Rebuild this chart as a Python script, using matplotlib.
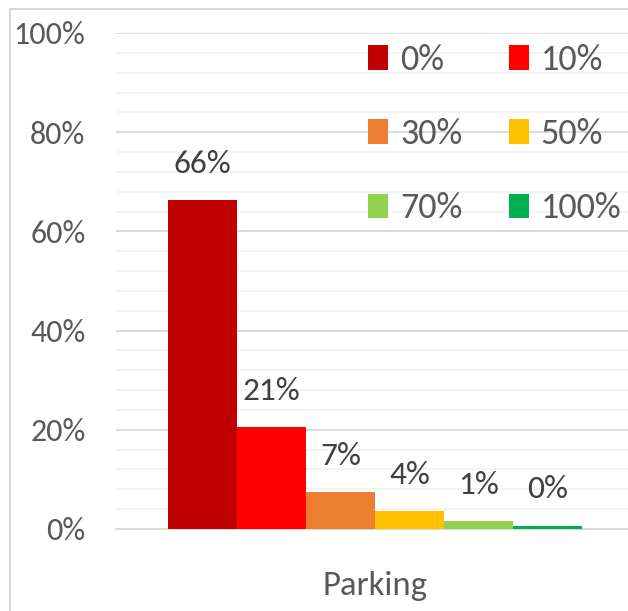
import matplotlib.pyplot as plt
from matplotlib.patches import Rectangle, Patch
from matplotlib.ticker import MultipleLocator, FuncFormatter

category = "Parking"
levels = ["0%", "10%", "30%", "50%", "70%", "100%"]
shares = [66.3, 20.6, 7.4, 3.7, 1.6, 0.7]
labels = ["66%", "21%", "7%", "4%", "1%", "0%"]
colors = ["#C00000", "#FF0000", "#ED7D31", "#FFC000", "#92D050", "#00B050"]

plt.rcParams["font.family"] = ["Carlito", "DejaVu Sans"]
text_color = "#595959"
fs = 23

W, H = 628, 611
fig = plt.figure(figsize=(W / 100, H / 100), dpi=100)
fig.patch.set_facecolor("white")

# chart frame like the Excel chart area
fig.patches.append(Rectangle((10 / W, -0.1), 1.2, (H - 9) / H + 0.1,
                             transform=fig.transFigure, fill=False,
                             edgecolor="#d9d9d9", linewidth=1.5))

ax = fig.add_axes([116 / W, 82 / H, 518 / W, 496 / H])

n = len(levels)
w = 414 / 518 / n
for i, (v, c, lab) in enumerate(zip(shares, colors, labels)):
    x = (i - (n - 1) / 2) * w
    ax.bar(x, v, width=w, color=c, edgecolor="none", zorder=3)
    ax.annotate(lab, (x, v), xytext=(0, 26), textcoords="offset points",
                ha="center", va="center", fontsize=fs + 1, color="#404040")

ax.set_xlim(-0.5, 0.5)
ax.set_ylim(0, 100)
ax.yaxis.set_major_locator(MultipleLocator(20))
ax.yaxis.set_minor_locator(MultipleLocator(4))
ax.yaxis.set_major_formatter(FuncFormatter(lambda v, p: f"{v:.0f}%"))
ax.grid(axis="y", which="major", color="#d9d9d9", linewidth=1.3, zorder=0)
ax.grid(axis="y", which="minor", color="#f2f2f2", linewidth=1.3, zorder=0)
ax.set_axisbelow(True)
ax.tick_params(axis="y", which="both", length=0, labelsize=fs,
               labelcolor=text_color, pad=22)
ax.set_xticks([0])
ax.set_xticklabels([category])
ax.tick_params(axis="x", length=0, labelsize=fs + 2, labelcolor=text_color, pad=30)
for s in ["top", "right", "left"]:
    ax.spines[s].set_visible(False)
ax.spines["bottom"].set_color("#d9d9d9")
ax.spines["bottom"].set_linewidth(1.3)

handles = [Patch(facecolor=c, edgecolor="none") for c in colors]
order = [0, 2, 4, 1, 3, 5]
leg = fig.legend([handles[k] for k in order], [levels[k] for k in order],
                 ncol=2, loc="upper left", bbox_to_anchor=(368 / W, 1 - 44 / H),
                 frameon=False, fontsize=26, handlelength=0.56, handleheight=0.67,
                 handletextpad=0.33, columnspacing=1.28, labelspacing=1.17,
                 borderpad=0, borderaxespad=0)
for t in leg.get_texts():
    t.set_color(text_color)

fig.savefig("out.png", dpi=100)
